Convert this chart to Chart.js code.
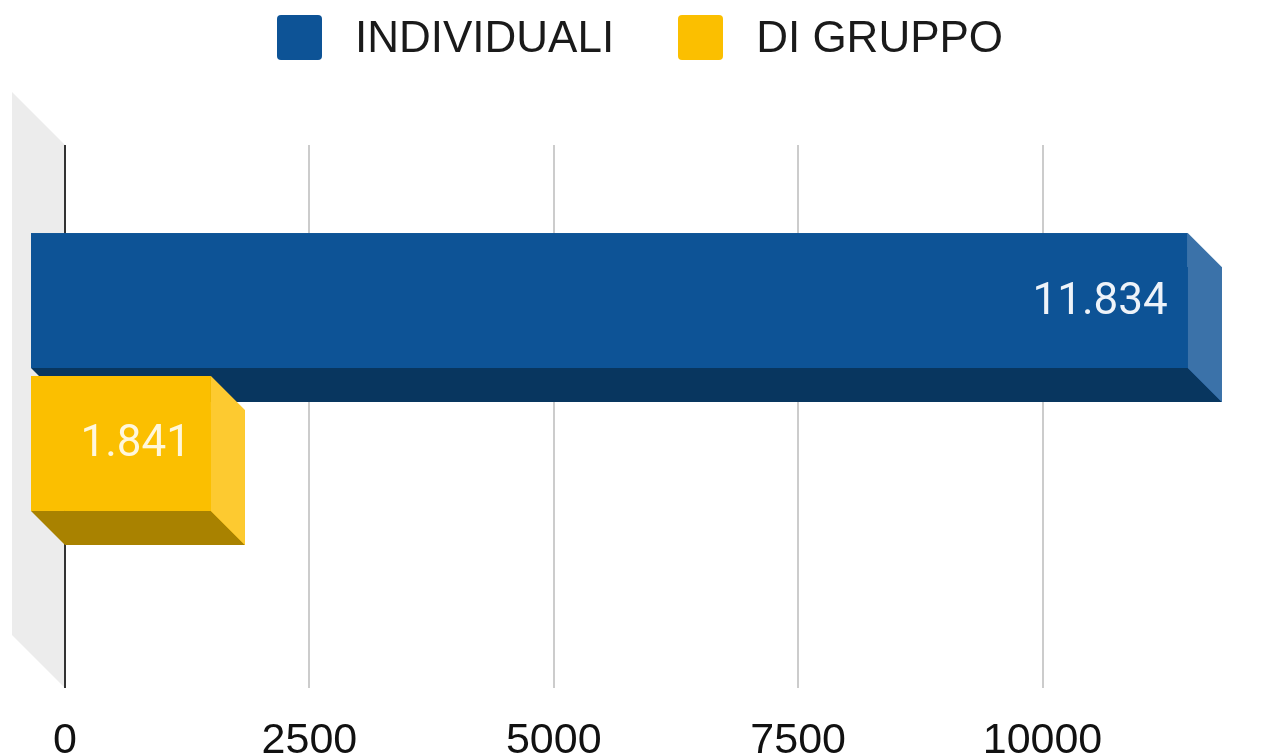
<!DOCTYPE html>
<html>
<head>
<meta charset="utf-8">
<script src="https://cdn.jsdelivr.net/npm/chart.js@4.4.1/dist/chart.umd.min.js"></script>
<style>
  html, body { margin: 0; padding: 0; background: #fff; }
  #wrap { position: relative; width: 1279px; height: 756px; }
  #legend { position: absolute; top: 12px; left: 277px; display: flex; align-items: center;
            font-family: "Liberation Sans", Arial, sans-serif; font-size: 44px; color: #1a1a1a; }
  .item { display: flex; align-items: center; }
  .box { width: 45px; height: 45px; border-radius: 4px; margin-right: 33px; }
  .item + .item { margin-left: 64px; }
</style>
</head>
<body>
<div id="wrap">
  <canvas id="myChart" width="1279" height="756"></canvas>
  <div id="legend"></div>
</div>
<script>
// Chart data
const categories = [""];
const seriesNames = ["INDIVIDUALI", "DI GRUPPO"];
const individuali = [11834];
const diGruppo = [1841];
const tickValues = [0, 2500, 5000, 7500, 10000];

// Colours: front face, bottom face, side face
const faceColors = [
  { front: "#0d5396", bottom: "#08365f", side: "#3b72a9" },
  { front: "#fbbf00", bottom: "#a98200", side: "#fdca30" },
];
const labelColors = ["#eef3f9", "#fff7dc"];
const depth = 34;
const wallDepth = 53;
const gridTopGap = 21;

const fmt = (v) => String(v).replace(/\B(?=(\d{3})+(?!\d))/g, ".");

// HTML legend
let legendEl = document.getElementById("legend");
legendEl.innerHTML = seriesNames
  .map((n, i) => `<div class="item"><div class="box" style="background:${faceColors[i].front}"></div>${n}</div>`)
  .join("");

// wall + grid behind the bars
const backdrop = {
  id: "backdrop",
  beforeDatasetsDraw(chart) {
    const { ctx, chartArea, scales: { x } } = chart;
    const top = chartArea.top + gridTopGap;
    const bottom = chartArea.bottom;
    const x0 = x.getPixelForValue(0);
    ctx.save();
    ctx.fillStyle = "#ececec";
    ctx.beginPath();
    ctx.moveTo(x0 - wallDepth, top - wallDepth);
    ctx.lineTo(x0, top);
    ctx.lineTo(x0, bottom);
    ctx.lineTo(x0 - wallDepth, bottom - wallDepth);
    ctx.closePath();
    ctx.fill();
    tickValues.forEach((v) => {
      const px = Math.round(x.getPixelForValue(v));
      ctx.strokeStyle = v === 0 ? "#333333" : "#cccccc";
      ctx.lineWidth = 2;
      ctx.beginPath();
      ctx.moveTo(px, top);
      ctx.lineTo(px, bottom);
      ctx.stroke();
    });
    ctx.restore();
  },
};

// 3D faces and value labels
const bars3d = {
  id: "bars3d",
  afterDatasetsDraw(chart) {
    const { ctx } = chart;
    chart.data.datasets.forEach((ds, di) => {
      const meta = chart.getDatasetMeta(di);
      const c = faceColors[di];
      meta.data.forEach((bar, i) => {
        const { x, y, base, height } = bar.getProps(["x", "y", "base", "height"], true);
        const l = base, r = x, t = y - height / 2, b = y + height / 2;
        ctx.save();
        // bottom
        ctx.fillStyle = c.bottom;
        ctx.beginPath();
        ctx.moveTo(l - depth, b - depth);
        ctx.lineTo(r - depth, b - depth);
        ctx.lineTo(r, b);
        ctx.lineTo(l, b);
        ctx.closePath();
        ctx.fill();
        // side
        ctx.fillStyle = c.side;
        ctx.beginPath();
        ctx.moveTo(r - depth, t - depth);
        ctx.lineTo(r, t);
        ctx.lineTo(r, b);
        ctx.lineTo(r - depth, b - depth);
        ctx.closePath();
        ctx.fill();
        // front
        ctx.fillStyle = c.front;
        ctx.fillRect(l - depth, t - depth, r - l, b - t);
        // label
        ctx.fillStyle = labelColors[di];
        ctx.font = "44px Roboto";
        ctx.textAlign = "right";
        ctx.textBaseline = "middle";
        ctx.fillText(fmt(ds.data[i]), r - depth - 20, y - depth + 2);
        ctx.restore();
      });
    });
  },
};

var myChart = new Chart(document.getElementById("myChart"), {
  type: "bar",
  data: {
    labels: categories,
    datasets: [
      { label: seriesNames[0], data: individuali, backgroundColor: faceColors[0].front },
      { label: seriesNames[1], data: diGruppo, backgroundColor: faceColors[1].front },
    ],
  },
  options: {
    indexAxis: "y",
    responsive: false,
    animation: false,
    categoryPercentage: 0.507,
    barPercentage: 0.944,
    layout: { padding: { top: 124, left: 65, right: 41, bottom: 0 } },
    plugins: { legend: { display: false }, tooltip: { enabled: false } },
    scales: {
      y: { display: false },
      x: {
        min: 0,
        max: 12000,
        afterBuildTicks: (scale) => { scale.ticks = tickValues.map((v) => ({ value: v })); },
        afterFit: (scale) => { scale.height = 68; },
        grid: { display: false, drawTicks: false },
        border: { display: false },
        ticks: {
          padding: 36,
          maxRotation: 0,
          color: "#111111",
          font: { family: "'Liberation Sans', Arial", size: 43, lineHeight: 0.8 },
          callback: (v) => String(v),
        },
      },
    },
  },
  plugins: [backdrop, bars3d],
});
</script>
</body>
</html>
